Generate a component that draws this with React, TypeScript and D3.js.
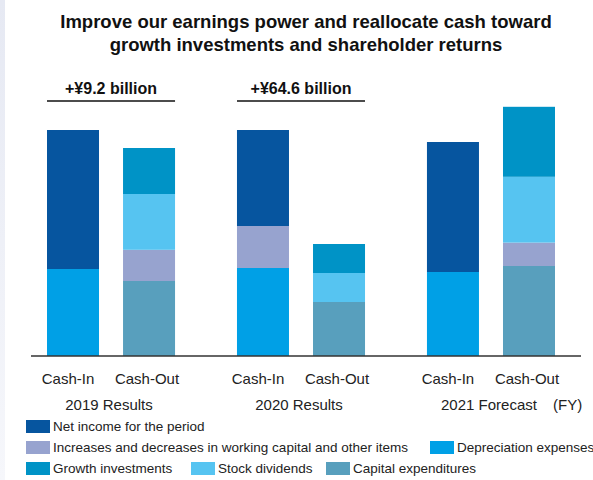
import * as d3 from "d3";
import { useEffect } from "react";

// periods and the two bars in each
const periods = ["2019 Results", "2020 Results", "2021 Forecast"];
const flows = ["Cash-In", "Cash-Out"];
const gapLabels = ["+¥9.2 billion", "+¥64.6 billion", ""];

// one value per bar: 2019 in, 2019 out, 2020 in, 2020 out, 2021 in, 2021 out
const netIncome = [69.5, 0, 48, 0, 65, 0];
const workingCapital = [0, 15.6, 21, 0, 0, 11.7];
const depreciation = [43.5, 0, 44, 0, 42, 0];
const growthInvestments = [0, 23, 0, 14.5, 0, 35];
const stockDividends = [0, 27.9, 0, 14.5, 0, 32.9];
const capitalExpenditures = [0, 37.5, 0, 27, 0, 45];

const seriesNames = {
  netIncome: "Net income for the period",
  workingCapital: "Increases and decreases in working capital and other items",
  depreciation: "Depreciation expenses",
  growth: "Growth investments",
  dividends: "Stock dividends",
  capex: "Capital expenditures",
};

const colors = {
  netIncome: "#06559f",
  workingCapital: "#97a3cf",
  depreciation: "#00a0e6",
  growth: "#0093c6",
  dividends: "#56c4f1",
  capex: "#589fbd",
};

// bottom to top
const stackKeys = ["depreciation", "capex", "workingCapital", "dividends", "netIncome", "growth"];

const W = 593;
const H = 480;
const FONT = "'Liberation Sans', Arial, sans-serif";

export default function App() {
  useEffect(() => {
    document.body.style.margin = "0";
  }, []);

  const rows = periods.flatMap((p, i) =>
    flows.map((f, j) => {
      const k = i * 2 + j;
      return {
        period: p,
        flow: f,
        netIncome: netIncome[k],
        workingCapital: workingCapital[k],
        depreciation: depreciation[k],
        growth: growthInvestments[k],
        dividends: stockDividends[k],
        capex: capitalExpenditures[k],
      };
    })
  );

  const stacked = d3.stack().keys(stackKeys)(rows as any);

  const x0 = d3.scaleBand().domain(periods).range([47, 555]).paddingInner(0.326);
  const x1 = d3.scaleBand().domain(flows).range([0, x0.bandwidth()]).paddingInner(0.316);
  const y = d3.scaleLinear().domain([0, 130]).range([356, 96]);

  const legend = [
    { key: "netIncome", x: 26, row: 0 },
    { key: "workingCapital", x: 26, row: 1 },
    { key: "depreciation", x: 430, row: 1 },
    { key: "growth", x: 26, row: 2 },
    { key: "dividends", x: 191, row: 2 },
    { key: "capex", x: 326, row: 2 },
  ];

  return (
    <svg width={W} height={H} style={{ display: "block", fontFamily: FONT }}>
      <defs>
        <linearGradient id="edge" x1="0" y1="0" x2="0" y2="1">
          <stop offset="0" stopColor="#e6e9f3" />
          <stop offset="1" stopColor="#f6f7fb" />
        </linearGradient>
      </defs>
      <rect x={0} y={0} width={W} height={H} fill="#fff" />
      <rect x={0} y={0} width={5} height={H} fill="url(#edge)" />

      {/* title */}
      <text x={306} y={28} textAnchor="middle" fontSize={18.5} fontWeight="bold" fill="#111">
        Improve our earnings power and reallocate cash toward
      </text>
      <text x={306} y={51} textAnchor="middle" fontSize={18.5} fontWeight="bold" fill="#111">
        growth investments and shareholder returns
      </text>

      {/* stacked bars */}
      {stacked.map((s) => (
        <g key={s.key} fill={(colors as any)[s.key]}>
          {s.map((d, i) => {
            const r = rows[i];
            const h = y(d[0]) - y(d[1]);
            if (h <= 0) return null;
            return (
              <rect
                key={i}
                x={(x0(r.period) as number) + (x1(r.flow) as number)}
                y={y(d[1])}
                width={x1.bandwidth()}
                height={h}
              />
            );
          })}
        </g>
      ))}

      {/* gap annotations */}
      {periods.map((p, i) =>
        gapLabels[i] ? (
          <g key={p}>
            <text
              x={(x0(p) as number) + x0.bandwidth() / 2}
              y={94}
              textAnchor="middle"
              fontSize={16}
              fontWeight="bold"
              fill="#111"
            >
              {gapLabels[i]}
            </text>
            <line
              x1={x0(p) as number}
              x2={(x0(p) as number) + x0.bandwidth()}
              y1={101}
              y2={101}
              stroke="#111"
              strokeWidth={1.5}
            />
          </g>
        ) : null
      )}

      {/* baseline */}
      <line x1={31} x2={581} y1={y(0)} y2={y(0)} stroke="#333" strokeWidth={1.6} />

      {/* category labels */}
      {periods.map((p) => (
        <g key={p}>
          {flows.map((f) => (
            <text
              key={f}
              x={(x0(p) as number) + (x1(f) as number) + x1.bandwidth() / 2 + (f === "Cash-In" ? -5 : -2)}
              y={384}
              textAnchor="middle"
              fontSize={15}
              fill="#222"
            >
              {f}
            </text>
          ))}
          <text
            x={(x0(p) as number) + x0.bandwidth() / 2 - 2}
            y={410}
            textAnchor="middle"
            fontSize={15}
            fill="#222"
          >
            {p}
          </text>
        </g>
      ))}
      <text x={553} y={410} fontSize={15} fill="#222">
        (FY)
      </text>

      {/* legend */}
      {legend.map((l) => (
        <g key={l.key} transform={`translate(${l.x},${420 + l.row * 21})`}>
          <rect width={24} height={13} fill={(colors as any)[l.key]} />
          <text x={27} y={11} fontSize={13.5} fill="#222">
            {(seriesNames as any)[l.key]}
          </text>
        </g>
      ))}
    </svg>
  );
}
